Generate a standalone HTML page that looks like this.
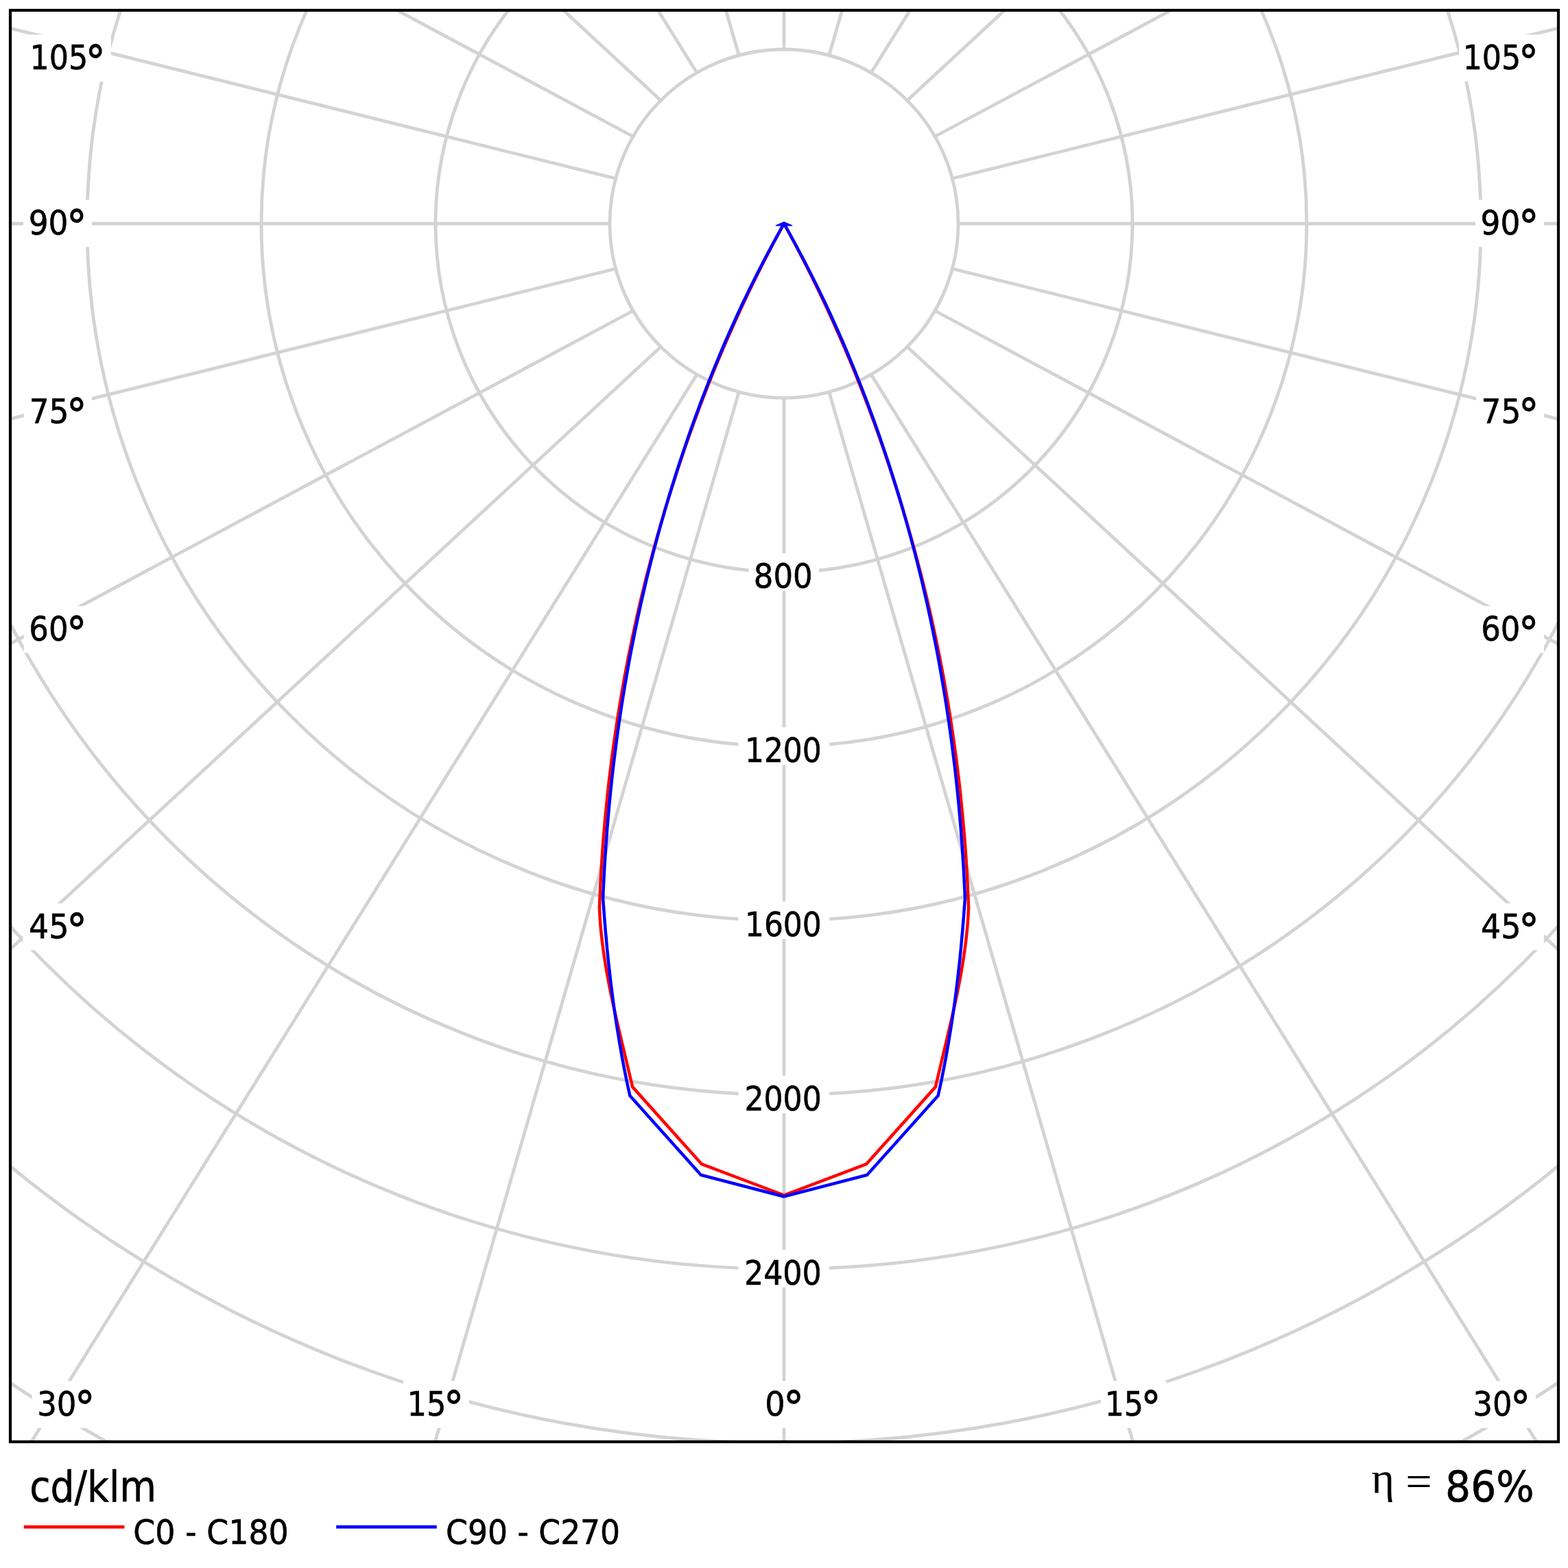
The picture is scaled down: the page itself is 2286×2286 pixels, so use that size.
<!DOCTYPE html>
<html><head><meta charset="utf-8"><title>Polar luminous intensity diagram</title><style>html,body{margin:0;padding:0;background:#fff;width:2286px;height:2286px;overflow:hidden}svg{display:block}</style></head><body>
<svg width="2286" height="2286" viewBox="0 0 2286 2286">
<defs><clipPath id="fc"><rect x="15" y="15" width="2257" height="2087"/></clipPath></defs>
<g clip-path="url(#fc)" fill="none" stroke="#d3d3d3" stroke-width="4.8"><circle cx="1143" cy="326" r="254"/><circle cx="1143" cy="326" r="508"/><circle cx="1143" cy="326" r="762"/><circle cx="1143" cy="326" r="1016"/><circle cx="1143" cy="326" r="1270"/><circle cx="1143" cy="326" r="1524"/><circle cx="1143" cy="326" r="1778"/><circle cx="1143" cy="326" r="2032"/><line x1="1143" y1="580" x2="1143" y2="4580"/><line x1="1208.74" y1="571.35" x2="2320.66" y2="4413.69"/><line x1="1077.26" y1="571.35" x2="-34.66" y2="4413.69"/><line x1="1270" y1="545.97" x2="3386.43" y2="3940.19"/><line x1="1016" y1="545.97" x2="-1100.43" y2="3940.19"/><line x1="1322.61" y1="505.61" x2="4257.65" y2="3223.24"/><line x1="963.39" y1="505.61" x2="-1971.65" y2="3223.24"/><line x1="1362.97" y1="453" x2="4890.55" y2="2338.79"/><line x1="923.03" y1="453" x2="-2604.55" y2="2338.79"/><line x1="1388.35" y1="391.74" x2="5270.64" y2="1354.94"/><line x1="897.65" y1="391.74" x2="-2984.64" y2="1354.94"/><line x1="1397" y1="326" x2="5397" y2="326"/><line x1="889" y1="326" x2="-3111" y2="326"/><line x1="1388.35" y1="260.26" x2="5270.64" y2="-702.94"/><line x1="897.65" y1="260.26" x2="-2984.64" y2="-702.94"/><line x1="1362.97" y1="199" x2="4890.55" y2="-1686.79"/><line x1="923.03" y1="199" x2="-2604.55" y2="-1686.79"/><line x1="1322.61" y1="146.39" x2="4257.65" y2="-2571.24"/><line x1="963.39" y1="146.39" x2="-1971.65" y2="-2571.24"/><line x1="1270" y1="106.03" x2="3386.43" y2="-3288.19"/><line x1="1016" y1="106.03" x2="-1100.43" y2="-3288.19"/><line x1="1208.74" y1="80.65" x2="2320.66" y2="-3761.69"/><line x1="1077.26" y1="80.65" x2="-34.66" y2="-3761.69"/><line x1="1143" y1="72" x2="1143" y2="-3928"/></g>
<g fill="#fff"><rect x="37.8" y="50.5" width="124" height="68.4"/><rect x="2126.9" y="50.5" width="124" height="68.4"/><rect x="34.1" y="291.4" width="99.9" height="68.4"/><rect x="2151" y="291.4" width="99.9" height="68.4"/><rect x="35.1" y="565.9" width="98.9" height="68.4"/><rect x="2152" y="565.9" width="98.9" height="68.4"/><rect x="34.7" y="883.5" width="99.3" height="68.4"/><rect x="2151.6" y="883.5" width="99.3" height="68.4"/><rect x="33.4" y="1316.8" width="100.6" height="68.4"/><rect x="2150.3" y="1316.8" width="100.6" height="68.4"/><rect x="46.6" y="2013.4" width="99.4" height="68.4"/><rect x="587.9" y="2013.4" width="96.1" height="68.4"/><rect x="1107.6" y="2013.4" width="71.3" height="68.4"/><rect x="1604.9" y="2013.4" width="95.7" height="68.4"/><rect x="2139.8" y="2013.4" width="99.1" height="68.4"/><rect x="1091.5" y="806.6" width="102.4" height="54.8"/><rect x="1076.5" y="1060.5" width="132.4" height="54.8"/><rect x="1076.5" y="1314.4" width="132.4" height="54.8"/><rect x="1076.5" y="1568.3" width="132.4" height="54.8"/><rect x="1076.5" y="1822.2" width="132.4" height="54.8"/></g>
<g fill="#000" stroke="#000" font-family="'DejaVu Sans Condensed', 'DejaVu Sans', sans-serif" font-stretch="condensed" font-size="50.6"><text transform="translate(43.53 101.2) scale(0.9744 1)" stroke-width="0.6">105<tspan x="83.41" dy="11.3" font-size="66" font-weight="bold" stroke-width="0">°</tspan></text><text transform="translate(2132.63 101.2) scale(0.9744 1)" stroke-width="0.6">105<tspan x="83.41" dy="11.3" font-size="66" font-weight="bold" stroke-width="0">°</tspan></text><text transform="translate(41.71 342.1) scale(0.9981 1)" stroke-width="0.6">90<tspan x="55.4" dy="11.3" font-size="66" font-weight="bold" stroke-width="0">°</tspan></text><text transform="translate(2158.61 342.1) scale(0.9981 1)" stroke-width="0.6">90<tspan x="55.4" dy="11.3" font-size="66" font-weight="bold" stroke-width="0">°</tspan></text><text transform="translate(42.71 616.6) scale(0.9980 1)" stroke-width="0.6">75<tspan x="54.4" dy="11.3" font-size="66" font-weight="bold" stroke-width="0">°</tspan></text><text transform="translate(2159.61 616.6) scale(0.9980 1)" stroke-width="0.6">75<tspan x="54.4" dy="11.3" font-size="66" font-weight="bold" stroke-width="0">°</tspan></text><text transform="translate(42.34 934.2) scale(0.9865 1)" stroke-width="0.6">60<tspan x="55.41" dy="11.3" font-size="66" font-weight="bold" stroke-width="0">°</tspan></text><text transform="translate(2159.24 934.2) scale(0.9865 1)" stroke-width="0.6">60<tspan x="55.41" dy="11.3" font-size="66" font-weight="bold" stroke-width="0">°</tspan></text><text transform="translate(41.98 1367.5) scale(1.0115 1)" stroke-width="0.6">45<tspan x="54.4" dy="11.3" font-size="66" font-weight="bold" stroke-width="0">°</tspan></text><text transform="translate(2158.88 1367.5) scale(1.0115 1)" stroke-width="0.6">45<tspan x="54.4" dy="11.3" font-size="66" font-weight="bold" stroke-width="0">°</tspan></text><text transform="translate(54.23 2064.1) scale(0.9885 1)" stroke-width="0.6">30<tspan x="55.4" dy="11.3" font-size="66" font-weight="bold" stroke-width="0">°</tspan></text><text transform="translate(593.59 2064.1) scale(0.9816 1)" stroke-width="0.6">15<tspan x="54.41" dy="11.3" font-size="66" font-weight="bold" stroke-width="0">°</tspan></text><text transform="translate(1115.16 2064.1) scale(1.0130 1)" stroke-width="0.6">0<tspan x="26.39" dy="11.3" font-size="66" font-weight="bold" stroke-width="0">°</tspan></text><text transform="translate(1610.63 2064.1) scale(0.9735 1)" stroke-width="0.6">15<tspan x="54.41" dy="11.3" font-size="66" font-weight="bold" stroke-width="0">°</tspan></text><text transform="translate(2147.45 2064.1) scale(0.9827 1)" stroke-width="0.6">30<tspan x="55.41" dy="11.3" font-size="66" font-weight="bold" stroke-width="0">°</tspan></text><text transform="translate(1098.84 857.1) scale(0.9877 1)" stroke-width="0.6">800</text><text transform="translate(1085.98 1111) scale(0.9648 1)" stroke-width="0.6">1200</text><text transform="translate(1085.98 1364.9) scale(0.9648 1)" stroke-width="0.6">1600</text><text transform="translate(1085.49 1618.8) scale(0.9691 1)" stroke-width="0.6">2000</text><text transform="translate(1084.98 1872.7) scale(0.9736 1)" stroke-width="0.6">2400</text></g>
<path d="M1143,1742.5 L1022.9,1697 L922.1,1584.6 L920.8,1579 L918.9,1571 L917,1563 L915.1,1555 L913.2,1547 L911.3,1539 L909.4,1531 L907.5,1523 L905.6,1515 L903.7,1507 L901.8,1499 L899.9,1491 L898.1,1483 L896.3,1475 L894.5,1467 L892.8,1459 L891.1,1451 L889.5,1443 L887.9,1435 L886.4,1427 L884.9,1419 L883.5,1411 L882.2,1403 L881,1395 L879.8,1387 L878.7,1379 L877.7,1371 L876.8,1363 L876,1355 L875.3,1347 L874.7,1339 L874.3,1331 L873.9,1323 L874.1,1318 L874.4,1310 L874.8,1302 L875.1,1294 L875.5,1286 L876,1278 L876.4,1270 L876.9,1262 L877.4,1254 L878,1246 L878.5,1238 L879.1,1230 L879.7,1222 L880.4,1214 L881.1,1206 L881.8,1198 L882.5,1190 L883.3,1182 L884.1,1174 L884.9,1166 L885.7,1158 L886.6,1150 L887.5,1142 L888.4,1134 L889.4,1126 L890.4,1118 L891.4,1110 L892.4,1102 L893.5,1094 L894.6,1086 L895.7,1078 L896.9,1070 L898.1,1062 L899.3,1054 L900.5,1046 L901.8,1038 L903.1,1030 L904.4,1022 L905.8,1014 L907.2,1006 L908.6,998 L910,990 L911.5,982 L913,974 L914.6,966 L916.1,958 L917.7,950 L919.4,942 L921,934 L922.7,926 L924.4,918 L926.2,910 L927.9,902 L929.7,894 L931.6,886 L933.4,878 L935.3,870 L937.3,862 L939.2,854 L941.2,846 L943.2,838 L945.3,830 L947.4,822 L949.5,814 L951.6,806 L953.8,798 L956,790 L958.2,782 L960.5,774 L962.8,766 L965.1,758 L967.5,750 L969.8,742 L972.3,734 L974.7,726 L977.2,718 L979.7,710 L982.3,702 L984.8,694 L987.5,686 L990.1,678 L992.8,670 L995.5,662 L998.2,654 L1001,646 L1003.8,638 L1006.6,630 L1009.5,622 L1012.4,614 L1015.4,606 L1018.3,598 L1021.3,590 L1024.4,582 L1027.5,574 L1030.6,566 L1033.8,558 L1037,550 L1040.2,542 L1043.5,534 L1046.8,526 L1050.1,518 L1053.5,510 L1056.9,502 L1060.4,494 L1063.9,486 L1067.5,478 L1071,470 L1074.7,462 L1078.3,454 L1082,446 L1085.8,438 L1089.6,430 L1093.4,422 L1097.3,414 L1101.2,406 L1105.2,398 L1109.2,390 L1113.3,382 L1117.4,374 L1121.6,366 L1125.7,358 L1130,350 L1134.3,342 L1138.6,334 L1143,326 L1147.4,334 L1151.7,342 L1156,350 L1160.3,358 L1164.4,366 L1168.6,374 L1172.7,382 L1176.8,390 L1180.8,398 L1184.8,406 L1188.7,414 L1192.6,422 L1196.4,430 L1200.2,438 L1204,446 L1207.7,454 L1211.3,462 L1215,470 L1218.5,478 L1222.1,486 L1225.6,494 L1229.1,502 L1232.5,510 L1235.9,518 L1239.2,526 L1242.5,534 L1245.8,542 L1249,550 L1252.2,558 L1255.4,566 L1258.5,574 L1261.6,582 L1264.7,590 L1267.7,598 L1270.6,606 L1273.6,614 L1276.5,622 L1279.4,630 L1282.2,638 L1285,646 L1287.8,654 L1290.5,662 L1293.2,670 L1295.9,678 L1298.5,686 L1301.2,694 L1303.7,702 L1306.3,710 L1308.8,718 L1311.3,726 L1313.7,734 L1316.2,742 L1318.5,750 L1320.9,758 L1323.2,766 L1325.5,774 L1327.8,782 L1330,790 L1332.2,798 L1334.4,806 L1336.5,814 L1338.6,822 L1340.7,830 L1342.8,838 L1344.8,846 L1346.8,854 L1348.7,862 L1350.7,870 L1352.6,878 L1354.4,886 L1356.3,894 L1358.1,902 L1359.8,910 L1361.6,918 L1363.3,926 L1365,934 L1366.6,942 L1368.3,950 L1369.9,958 L1371.4,966 L1373,974 L1374.5,982 L1376,990 L1377.4,998 L1378.8,1006 L1380.2,1014 L1381.6,1022 L1382.9,1030 L1384.2,1038 L1385.5,1046 L1386.7,1054 L1387.9,1062 L1389.1,1070 L1390.3,1078 L1391.4,1086 L1392.5,1094 L1393.6,1102 L1394.6,1110 L1395.6,1118 L1396.6,1126 L1397.6,1134 L1398.5,1142 L1399.4,1150 L1400.3,1158 L1401.1,1166 L1401.9,1174 L1402.7,1182 L1403.5,1190 L1404.2,1198 L1404.9,1206 L1405.6,1214 L1406.3,1222 L1406.9,1230 L1407.5,1238 L1408,1246 L1408.6,1254 L1409.1,1262 L1409.6,1270 L1410,1278 L1410.5,1286 L1410.9,1294 L1411.2,1302 L1411.6,1310 L1411.9,1318 L1412.1,1323 L1411.7,1331 L1411.3,1339 L1410.7,1347 L1410,1355 L1409.2,1363 L1408.3,1371 L1407.3,1379 L1406.2,1387 L1405,1395 L1403.8,1403 L1402.5,1411 L1401.1,1419 L1399.6,1427 L1398.1,1435 L1396.5,1443 L1394.9,1451 L1393.2,1459 L1391.5,1467 L1389.7,1475 L1387.9,1483 L1386.1,1491 L1384.2,1499 L1382.3,1507 L1380.4,1515 L1378.5,1523 L1376.6,1531 L1374.7,1539 L1372.8,1547 L1370.9,1555 L1369,1563 L1367.1,1571 L1365.2,1579 L1363.9,1584.6 L1263.1,1697 Z" fill="none" stroke="#f00" stroke-width="4.5" stroke-linejoin="miter" stroke-miterlimit="1.8"/>
<path d="M1143,1744.5 L1021.8,1712.9 L918.4,1597.5 L916.7,1590 L915,1582 L913.3,1574 L911.7,1566 L910.1,1558 L908.5,1550 L907,1542 L905.6,1534 L904.2,1526 L902.8,1518 L901.5,1510 L900.2,1502 L898.9,1494 L897.7,1486 L896.5,1478 L895.4,1470 L894.3,1462 L893.2,1454 L892.2,1446 L891.2,1438 L890.2,1430 L889.3,1422 L888.4,1414 L887.5,1406 L886.6,1398 L885.8,1390 L885,1382 L884.3,1374 L883.6,1366 L882.8,1358 L882.2,1350 L881.5,1342 L880.9,1334 L880.3,1326 L879.7,1318 L879.1,1310 L879.4,1302 L879.8,1294 L880.2,1286 L880.6,1278 L881,1270 L881.5,1262 L882,1254 L882.5,1246 L883,1238 L883.6,1230 L884.2,1222 L884.8,1214 L885.4,1206 L886.1,1198 L886.8,1190 L887.5,1182 L888.2,1174 L889,1166 L889.8,1158 L890.6,1150 L891.5,1142 L892.3,1134 L893.2,1126 L894.1,1118 L895.1,1110 L896.1,1102 L897.1,1094 L898.1,1086 L899.2,1078 L900.3,1070 L901.4,1062 L902.5,1054 L903.7,1046 L904.9,1038 L906.1,1030 L907.4,1022 L908.6,1014 L910,1006 L911.3,998 L912.7,990 L914.1,982 L915.5,974 L916.9,966 L918.4,958 L919.9,950 L921.5,942 L923.1,934 L924.7,926 L926.3,918 L928,910 L929.6,902 L931.4,894 L933.1,886 L934.9,878 L936.7,870 L938.6,862 L940.4,854 L942.3,846 L944.3,838 L946.2,830 L948.2,822 L950.3,814 L952.3,806 L954.4,798 L956.6,790 L958.7,782 L960.9,774 L963.1,766 L965.4,758 L967.7,750 L970,742 L972.3,734 L974.7,726 L977.1,718 L979.6,710 L982.1,702 L984.6,694 L987.1,686 L989.7,678 L992.3,670 L995,662 L997.7,654 L1000.4,646 L1003.1,638 L1005.9,630 L1008.7,622 L1011.6,614 L1014.5,606 L1017.5,598 L1020.4,590 L1023.4,582 L1026.5,574 L1029.6,566 L1032.7,558 L1035.9,550 L1039.1,542 L1042.4,534 L1045.7,526 L1049,518 L1052.4,510 L1055.8,502 L1059.3,494 L1062.8,486 L1066.4,478 L1070,470 L1073.6,462 L1077.3,454 L1081,446 L1084.8,438 L1088.7,430 L1092.5,422 L1096.5,414 L1100.5,406 L1104.5,398 L1108.6,390 L1112.7,382 L1116.9,374 L1121.1,366 L1125.4,358 L1129.7,350 L1134.1,342 L1138.5,334 L1143,326 L1147.5,334 L1151.9,342 L1156.3,350 L1160.6,358 L1164.9,366 L1169.1,374 L1173.3,382 L1177.4,390 L1181.5,398 L1185.5,406 L1189.5,414 L1193.5,422 L1197.3,430 L1201.2,438 L1205,446 L1208.7,454 L1212.4,462 L1216,470 L1219.6,478 L1223.2,486 L1226.7,494 L1230.2,502 L1233.6,510 L1237,518 L1240.3,526 L1243.6,534 L1246.9,542 L1250.1,550 L1253.3,558 L1256.4,566 L1259.5,574 L1262.6,582 L1265.6,590 L1268.5,598 L1271.5,606 L1274.4,614 L1277.3,622 L1280.1,630 L1282.9,638 L1285.6,646 L1288.3,654 L1291,662 L1293.7,670 L1296.3,678 L1298.9,686 L1301.4,694 L1303.9,702 L1306.4,710 L1308.9,718 L1311.3,726 L1313.7,734 L1316,742 L1318.3,750 L1320.6,758 L1322.9,766 L1325.1,774 L1327.3,782 L1329.4,790 L1331.6,798 L1333.7,806 L1335.7,814 L1337.8,822 L1339.8,830 L1341.7,838 L1343.7,846 L1345.6,854 L1347.4,862 L1349.3,870 L1351.1,878 L1352.9,886 L1354.6,894 L1356.4,902 L1358,910 L1359.7,918 L1361.3,926 L1362.9,934 L1364.5,942 L1366.1,950 L1367.6,958 L1369.1,966 L1370.5,974 L1371.9,982 L1373.3,990 L1374.7,998 L1376,1006 L1377.4,1014 L1378.6,1022 L1379.9,1030 L1381.1,1038 L1382.3,1046 L1383.5,1054 L1384.6,1062 L1385.7,1070 L1386.8,1078 L1387.9,1086 L1388.9,1094 L1389.9,1102 L1390.9,1110 L1391.9,1118 L1392.8,1126 L1393.7,1134 L1394.5,1142 L1395.4,1150 L1396.2,1158 L1397,1166 L1397.8,1174 L1398.5,1182 L1399.2,1190 L1399.9,1198 L1400.6,1206 L1401.2,1214 L1401.8,1222 L1402.4,1230 L1403,1238 L1403.5,1246 L1404,1254 L1404.5,1262 L1405,1270 L1405.4,1278 L1405.8,1286 L1406.2,1294 L1406.6,1302 L1406.9,1310 L1406.3,1318 L1405.7,1326 L1405.1,1334 L1404.5,1342 L1403.8,1350 L1403.2,1358 L1402.4,1366 L1401.7,1374 L1401,1382 L1400.2,1390 L1399.4,1398 L1398.5,1406 L1397.6,1414 L1396.7,1422 L1395.8,1430 L1394.8,1438 L1393.8,1446 L1392.8,1454 L1391.7,1462 L1390.6,1470 L1389.5,1478 L1388.3,1486 L1387.1,1494 L1385.8,1502 L1384.5,1510 L1383.2,1518 L1381.8,1526 L1380.4,1534 L1379,1542 L1377.5,1550 L1375.9,1558 L1374.3,1566 L1372.7,1574 L1371,1582 L1369.3,1590 L1367.6,1597.5 L1264.2,1712.9 Z" fill="none" stroke="#00f" stroke-width="4.5" stroke-linejoin="miter" stroke-miterlimit="1.8"/>
<path d="M1143,323.1 L1155.6,328.6 L1154.8,329.5 L1131.2,329.5 L1130.4,328.6 Z" fill="#00f"/>
<rect x="15" y="15" width="2257" height="2087" fill="none" stroke="#000" stroke-width="4.2"/>
<g fill="#000"><text transform="translate(43.18 2188.7) scale(0.9721 1)" font-family="'DejaVu Sans Condensed', 'DejaVu Sans', sans-serif" font-stretch="condensed" font-size="63" stroke="#000" stroke-width="0.6">cd/klm</text><text transform="translate(1999.28 2175.8) scale(1.0241 1)" font-family="'Liberation Serif', 'DejaVu Serif', serif" font-size="63">η</text><text transform="translate(2049.24 2181) scale(1.0862 1)" font-family="'Liberation Serif', 'DejaVu Serif', serif" font-size="63">=</text><text transform="translate(2107.09 2188.6) scale(1.0286 1)" font-family="'DejaVu Sans Condensed', 'DejaVu Sans', sans-serif" font-stretch="condensed" font-size="63" stroke="#000" stroke-width="0.6">86%</text><text transform="translate(194.18 2250.7) scale(1.0086 1)" font-family="'DejaVu Sans Condensed', 'DejaVu Sans', sans-serif" font-stretch="condensed" font-size="50.6" stroke="#000" stroke-width="0.6">C0 - C180</text><text transform="translate(650.1 2250.7) scale(1.0012 1)" font-family="'DejaVu Sans Condensed', 'DejaVu Sans', sans-serif" font-stretch="condensed" font-size="50.6" stroke="#000" stroke-width="0.6">C90 - C270</text></g>
<line x1="34.8" y1="2226.2" x2="181.4" y2="2226.2" stroke="#f00" stroke-width="4.8"/>
<line x1="490.2" y1="2226.2" x2="636.7" y2="2226.2" stroke="#00f" stroke-width="4.8"/>
</svg>
</body></html>
